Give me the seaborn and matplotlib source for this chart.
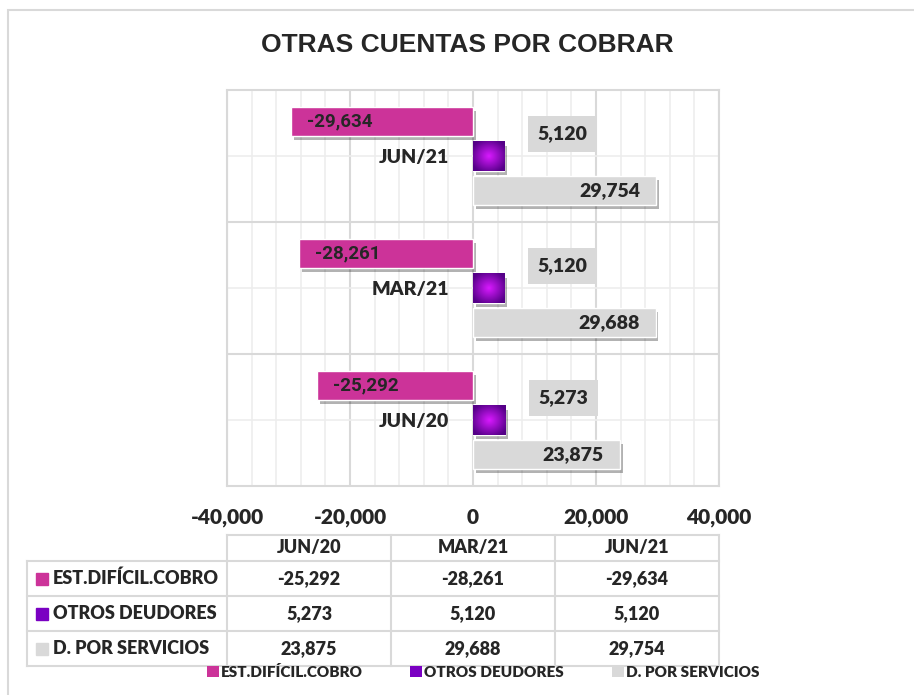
import numpy as np
import pandas as pd
import seaborn as sns
import matplotlib.pyplot as plt
import matplotlib.patheffects as pe
from matplotlib.patches import Rectangle, Patch
from matplotlib.lines import Line2D
from matplotlib.ticker import MultipleLocator, FuncFormatter

periodos = ['JUN/20', 'MAR/21', 'JUN/21']
series = ['EST.DIFÍCIL.COBRO', 'OTROS DEUDORES', 'D. POR SERVICIOS']
est_dificil_cobro = [-25292, -28261, -29634]
otros_deudores = [5273, 5120, 5120]
d_por_servicios = [23875, 29688, 29754]
colores = ['#CC3399', '#7A00C2', '#D9D9D9']

W, H = 914, 695
GRID = '#D9D9D9'
GRID_MINOR = '#EDEDED'

sns.set_style('white')
plt.rcParams['font.family'] = ['Lato', 'DejaVu Sans']
plt.rcParams['font.weight'] = 'heavy'

df = pd.DataFrame({
    'periodo': periodos * 3,
    'serie': [s for s in series for _ in periodos],
    'valor': est_dificil_cobro + otros_deudores + d_por_servicios,
})

fig = plt.figure(figsize=(W / 100, H / 100), dpi=100)
# area del grafico en pixeles: x 227..719, y 90..486
ax = fig.add_axes([227 / W, 1 - 486 / H, 492 / W, 396 / H])

sns.barplot(data=df, x='valor', y='periodo', hue='serie', order=periodos[::-1],
            hue_order=series, palette=colores, orient='h', width=0.78, gap=0.15,
            saturation=1, errorbar=None, legend=False, ax=ax)

# degradado radial para OTROS DEUDORES
g = np.linspace(-1, 1, 64)
gx, gy = np.meshgrid(g, g)
t = np.clip(np.hypot(gx, gy) / 1.2, 0, 1)[..., None]
centro = np.array([0.85, 0.1, 1.0])
borde = np.array([0.33, 0.0, 0.53])
degradado = centro * (1 - t) + borde * t

sombra = [pe.SimplePatchShadow(offset=(2, -3), shadow_rgbFace='black', alpha=0.3), pe.Normal()]
for k, cont in enumerate(ax.containers):
    for bar in cont.patches:
        bar.set_path_effects(sombra)
        val = bar.get_width()
        yc = bar.get_y() + bar.get_height() / 2
        txt = f'{val:,.0f}'
        if k == 0:
            ax.annotate(txt, (val, yc), xytext=(11.5, 0), textcoords='offset points',
                        ha='left', va='center', fontsize=13.5, weight='bold',
                        family=['Roboto', 'DejaVu Sans'])
        elif k == 2:
            ax.annotate(txt, (val, yc), xytext=(-11.5, 0), textcoords='offset points',
                        ha='right', va='center', fontsize=14)
        else:
            x0, x1 = bar.get_x(), bar.get_x() + val
            y0, y1 = bar.get_y(), bar.get_y() + bar.get_height()
            im = ax.imshow(degradado, extent=[x0, x1, y1, y0], aspect='auto',
                           interpolation='bilinear', zorder=bar.get_zorder() + 0.01)
            im.set_clip_path(bar)
            ax.annotate(txt, (val, yc), xytext=(42, 16), textcoords='offset points',
                        ha='center', va='center', fontsize=14,
                        bbox=dict(boxstyle='square,pad=0.5', fc=GRID, ec='none'))

ax.set_xlim(-40000, 40000)
ax.set_ylim(2.5, -0.5)
ax.xaxis.set_major_locator(MultipleLocator(20000))
ax.xaxis.set_minor_locator(MultipleLocator(4000))
ax.xaxis.set_major_formatter(FuncFormatter(lambda v, p: f'{v:,.0f}'))
ax.set_yticks([0.5, 1.5], minor=True)
ax.grid(which='major', axis='x', color=GRID, lw=1.5)
ax.grid(which='minor', axis='x', color=GRID_MINOR, lw=1.2)
ax.grid(which='minor', axis='y', color=GRID, lw=1.5)
ax.grid(which='major', axis='y', color=GRID_MINOR, lw=1.2)
ax.set_axisbelow(True)
ax.set_xlabel('')
ax.set_ylabel('')
ax.tick_params(axis='both', which='both', length=0)
ax.tick_params(axis='x', pad=16, labelsize=15)
ax.tick_params(axis='y', pad=17, labelsize=14)
ax.spines['left'].set_position(('data', 0))
ax.spines['left'].set_visible(False)
for s in ['top', 'right', 'bottom']:
    ax.spines[s].set_color(GRID)
    ax.spines[s].set_linewidth(1.5)
ax.add_line(Line2D([0, 0], [0, 1], transform=ax.transAxes, color=GRID, lw=1.5, clip_on=False))

fig.text(467.5 / W, 1 - 45.5 / H, 'OTRAS CUENTAS POR COBRAR', ha='center', va='center',
         fontsize=19, weight='bold', family=['Liberation Sans', 'DejaVu Sans'])

# marco del grafico
fig.patches.append(Rectangle((8 / W, -0.1), 1.2, 1.1 - 10 / H, transform=fig.transFigure,
                             fill=False, ec=GRID, lw=1.5))

# tabla de datos
tax = fig.add_axes([0, 0, 1, 1])
tax.set_xlim(0, W)
tax.set_ylim(H, 0)
tax.axis('off')
xs = [27.3, 227, 391, 555, 719]
ys = [535, 561, 596, 631, 666]
lk = dict(color=GRID, lw=1.5, solid_capstyle='projecting')
tax.plot([xs[1], xs[-1]], [ys[0], ys[0]], **lk)
for y in ys[1:]:
    tax.plot([xs[0], xs[-1]], [y, y], **lk)
tax.plot([xs[0], xs[0]], [ys[1], ys[-1]], **lk)
for x in xs[1:]:
    tax.plot([x, x], [ys[0], ys[-1]], **lk)

for j, p in enumerate(periodos):
    tax.text((xs[j + 1] + xs[j + 2]) / 2, (ys[0] + ys[1]) / 2, p, ha='center', va='center',
             fontsize=13)
filas = [est_dificil_cobro, otros_deudores, d_por_servicios]
for i, (s, vals) in enumerate(zip(series, filas)):
    yc = (ys[i + 1] + ys[i + 2]) / 2
    tax.add_patch(Rectangle((36, yc - 6), 12, 12, color=colores[i]))
    tax.text(53, yc, s, ha='left', va='center', fontsize=13)
    for j, v in enumerate(vals):
        tax.text((xs[j + 1] + xs[j + 2]) / 2, yc, f'{v:,.0f}', ha='center', va='center',
                 fontsize=13)

manejadores = [Patch(fc=c, ec='none') for c in colores]
fig.legend(manejadores, series, loc='center', bbox_to_anchor=(483 / W, 1 - 672 / H), ncol=3,
           frameon=False, fontsize=11, handlelength=0.78, handleheight=0.78,
           handletextpad=0.15, columnspacing=3.1)

fig.savefig('out.png', dpi=100)
